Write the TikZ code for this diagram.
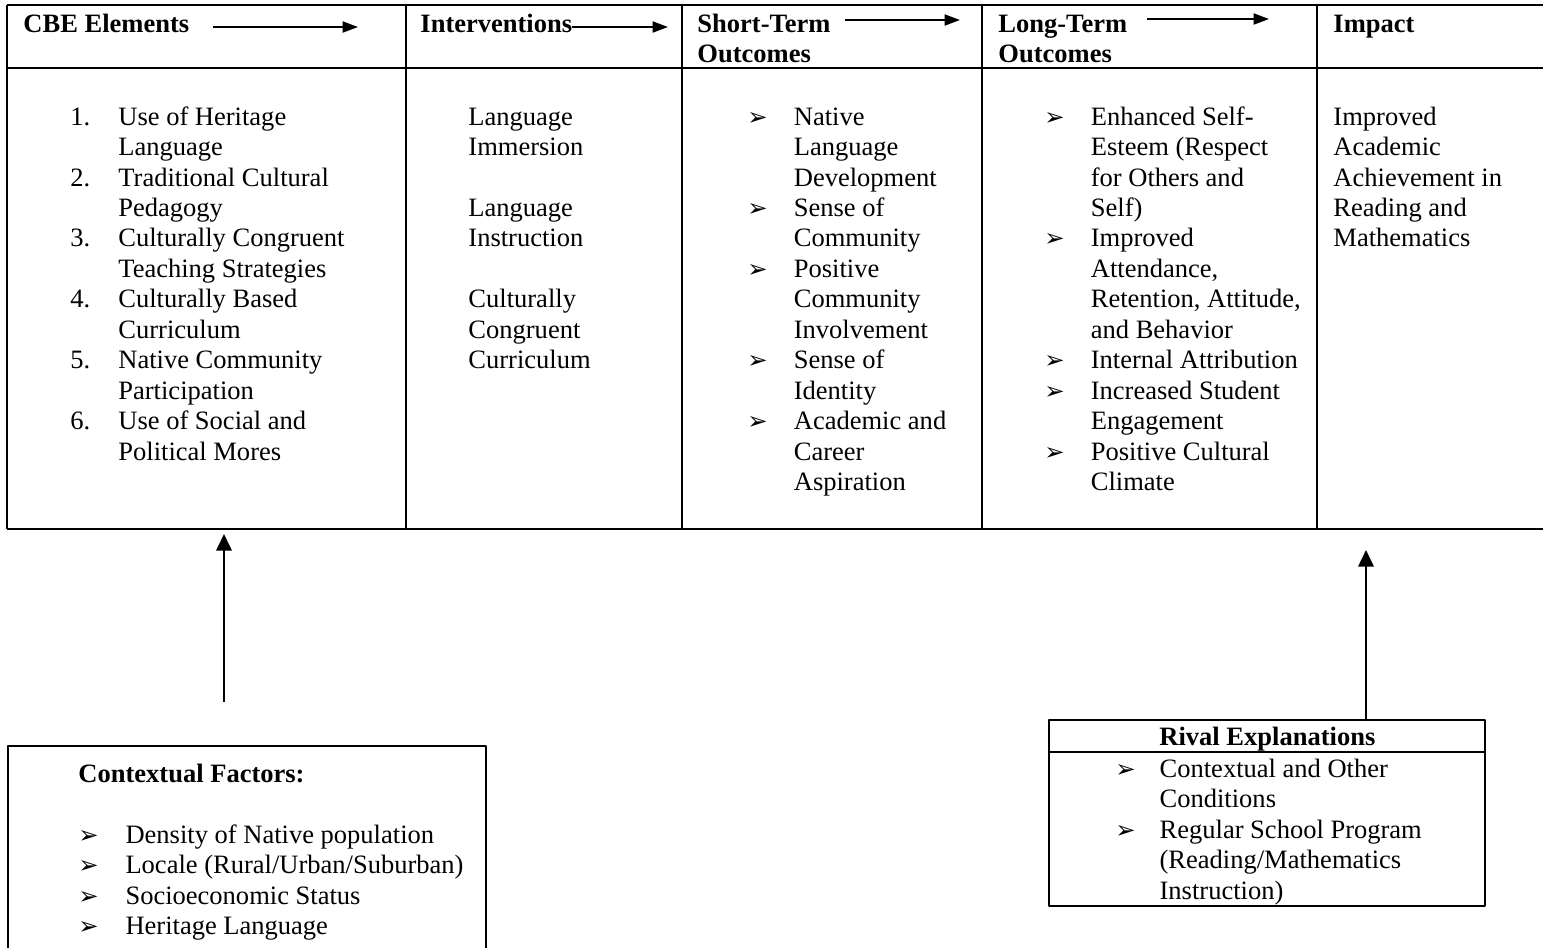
\documentclass[tikz,border=0pt]{standalone}
\usepackage{fontspec}
\setmainfont{Liberation Serif}
\newfontfamily\dingfont{DejaVu Sans}
\usetikzlibrary{arrows.meta}
\newcommand{\arrbul}{{\dingfont\fontsize{11}{13.8}\selectfont ➢}}
\tikzset{
  cell/.style={anchor=base west, inner sep=0pt, font=\fontsize{12}{13.8}\selectfont},
  head/.style={cell, font=\fontsize{12}{13.8}\selectfont\bfseries},
  rule/.style={line width=1pt},
  flow/.style={line width=0.9pt, -{Triangle[length=7pt,width=5pt]}},
  feed/.style={line width=0.9pt, -{Triangle[length=7.5pt,width=7pt]}}
}
\begin{document}
\begin{tikzpicture}[x=0.4525pt, y=-0.4525pt, line join=round]
  \def\xa{7} \def\xb{406} \def\xc{682} \def\xd{982} \def\xe{1317} \def\xf{1543}
  \def\ytop{5} \def\yhead{68} \def\ybot{529} \def\yrow{125}
  \useasboundingbox (0,0) rectangle (1543,947);
  \clip (0,0) rectangle (1543,947);
  % table frame
  \draw[rule] (\xa,\ytop) -- (\xf,\ytop) (\xa,\yhead) -- (\xf,\yhead) (\xa,\ybot) -- (\xf,\ybot);
  \foreach \xx in {\xa,\xb,\xc,\xd,\xe} \draw[rule] (\xx,\ytop) -- (\xx,\ybot);
  % header row
  \node[head] (cbe) at (23,32) {CBE Elements};
  \node[head] (interv) at (420,32) {Interventions};
  \node[head] (shortterm) at (697,32) {\begin{tabular}[t]{@{}l@{}}Short-Term\\Outcomes\end{tabular}};
  \node[head] (longterm) at (998,32) {\begin{tabular}[t]{@{}l@{}}Long-Term\\Outcomes\end{tabular}};
  \node[head] (impact) at (1333,32) {Impact};
  \coordinate (cbeA) at (213,27);  \coordinate (cbeB) at (358,27);
  \coordinate (intA) at (572,27);  \coordinate (intB) at (668,27);
  \coordinate (stA) at (845,20);   \coordinate (stB) at (960,20);
  \coordinate (ltA) at (1147,19);  \coordinate (ltB) at (1269,19);
  \draw[flow] (cbeA) -- (cbeB);
  \draw[flow] (intA) -- (intB);
  \draw[flow] (stA) -- (stB);
  \draw[flow] (ltA) -- (ltB);
  % body row
  \node[cell] (cbelist) at (70,\yrow) {\begin{tabular}[t]{@{}p{21.7pt}@{}l@{}}
    1. & Use of Heritage\\ & Language\\
    2. & Traditional Cultural\\ & Pedagogy\\
    3. & Culturally Congruent\\ & Teaching Strategies\\
    4. & Culturally Based\\ & Curriculum\\
    5. & Native Community\\ & Participation\\
    6. & Use of Social and\\ & Political Mores
  \end{tabular}};
  \node[cell] (intervlist) at (468,\yrow) {\begin{tabular}[t]{@{}l@{}}
    Language\\ Immersion\\ \\
    Language\\ Instruction\\ \\
    Culturally\\ Congruent\\ Curriculum
  \end{tabular}};
  \node[cell] (stlist) at (747,\yrow) {\begin{tabular}[t]{@{}p{21pt}@{}l@{}}
    \arrbul & Native\\ & Language\\ & Development\\
    \arrbul & Sense of\\ & Community\\
    \arrbul & Positive\\ & Community\\ & Involvement\\
    \arrbul & Sense of\\ & Identity\\
    \arrbul & Academic and\\ & Career\\ & Aspiration
  \end{tabular}};
  \node[cell] (ltlist) at (1044,\yrow) {\begin{tabular}[t]{@{}p{21pt}@{}l@{}}
    \arrbul & Enhanced Self-\\ & Esteem (Respect\\ & for Others and\\ & Self)\\
    \arrbul & Improved\\ & Attendance,\\ & Retention, Attitude,\\ & and Behavior\\
    \arrbul & Internal Attribution\\
    \arrbul & Increased Student\\ & Engagement\\
    \arrbul & Positive Cultural\\ & Climate
  \end{tabular}};
  \node[cell] (impactlist) at (1333,\yrow) {\begin{tabular}[t]{@{}l@{}}
    Improved\\ Academic\\ Achievement in\\ Reading and\\ Mathematics
  \end{tabular}};
  % contextual factors
  \draw[rule] (8,746) rectangle (486,980);
  \node[head] (ctxhead) at (78,782) {Contextual Factors:};
  \node[cell] (ctxlist) at (78,843) {\begin{tabular}[t]{@{}p{21.3pt}@{}l@{}}
    \arrbul & Density of Native population\\
    \arrbul & Locale (Rural/Urban/Suburban)\\
    \arrbul & Socioeconomic Status\\
    \arrbul & Heritage Language
  \end{tabular}};
  % rival explanations
  \draw[rule] (1049,720) rectangle (1485,906);
  \draw[rule] (1049,752) -- (1485,752);
  \node[head] (rivhead) at (1159,745) {Rival Explanations};
  \node[cell] (rivlist) at (1115,777) {\begin{tabular}[t]{@{}p{20pt}@{}l@{}}
    \arrbul & Contextual and Other\\ & Conditions\\
    \arrbul & Regular School Program\\ & (Reading/Mathematics\\ & Instruction)
  \end{tabular}};
  % upward arrows
  \coordinate (ctxtop) at (224,702);  \coordinate (cbefoot) at (224,534);
  \coordinate (rivtop) at (1366,720); \coordinate (impfoot) at (1366,550);
  \draw[feed] (ctxtop) -- (cbefoot);
  \draw[feed] (rivtop) -- (impfoot);
\end{tikzpicture}
\end{document}
